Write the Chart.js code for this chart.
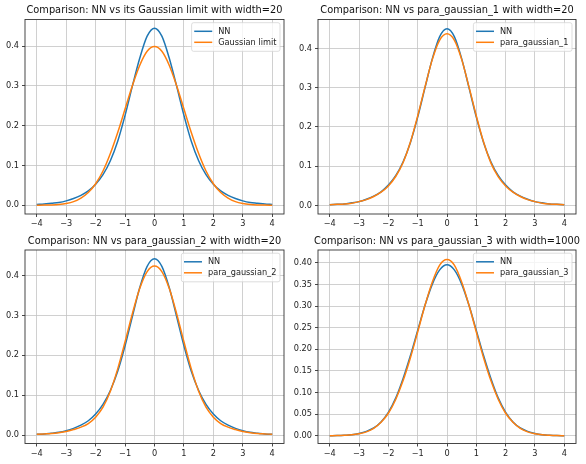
<!DOCTYPE html>
<html><head><meta charset="utf-8">
<script src="https://cdn.jsdelivr.net/npm/chart.js@4/dist/chart.umd.min.js"></script>
<style>
html,body{margin:0;padding:0;background:#fff;overflow:hidden;width:586px;height:464px;}
canvas{position:absolute;}
</style></head><body>
<canvas id="c1" width="309" height="232" style="left:0px;top:0px"></canvas>
<canvas id="c2" width="318" height="232" style="left:288px;top:0px"></canvas>
<canvas id="c3" width="309" height="230" style="left:0px;top:232px"></canvas>
<canvas id="c4" width="318" height="230" style="left:288px;top:232px"></canvas>
<script>
// x positions (shared by all panels)
const xs = [-4,-3.75,-3.5,-3.25,-3,-2.75,-2.5,-2.25,-2,-1.75,-1.5,-1.25,-1,-0.75,-0.5,-0.25,0,
            0.25,0.5,0.75,1,1.25,1.5,1.75,2,2.25,2.5,2.75,3,3.25,3.5,3.75,4];
const xTicks = [-4,-3,-2,-1,0,1,2,3,4];

const titles = [
  "Comparison: NN vs its Gaussian limit with width=20",
  "Comparison: NN vs para_gaussian_1 with width=20",
  "Comparison: NN vs para_gaussian_2 with width=20",
  "Comparison: NN vs para_gaussian_3 with width=1000"
];
const secondLabels = ["Gaussian limit","para_gaussian_1","para_gaussian_2","para_gaussian_3"];

// Panel 1
const nn1 = [0.002,0.003,0.005,0.007,0.011,0.017,0.025,0.036,0.053,0.077,0.112,0.161,0.226,0.300,0.370,0.425,0.445,
             0.425,0.370,0.300,0.226,0.161,0.112,0.077,0.053,0.036,0.025,0.017,0.011,0.007,0.005,0.003,0.002];
const gaussLimit = [0.0001,0.0004,0.0009,0.002,0.0044,0.009,0.018,0.032,0.054,0.086,0.130,0.183,0.242,0.301,0.352,0.387,0.399,
                    0.387,0.352,0.301,0.242,0.183,0.130,0.086,0.054,0.032,0.018,0.009,0.0044,0.002,0.0009,0.0004,0.0001];
// Panel 2
const nn2 = [0.002,0.003,0.004,0.007,0.010,0.016,0.024,0.035,0.052,0.076,0.111,0.160,0.225,0.300,0.374,0.430,0.450,
             0.430,0.374,0.300,0.225,0.160,0.111,0.076,0.052,0.035,0.024,0.016,0.010,0.007,0.004,0.003,0.002];
const paraGauss1 = [0.002,0.003,0.004,0.006,0.010,0.015,0.023,0.034,0.050,0.074,0.109,0.161,0.228,0.302,0.372,0.421,0.437,
                    0.421,0.372,0.302,0.228,0.161,0.108,0.073,0.050,0.034,0.023,0.015,0.010,0.006,0.004,0.003,0.002];
// Panel 3
const nn3 = [0.002,0.003,0.005,0.007,0.011,0.017,0.025,0.036,0.053,0.077,0.112,0.160,0.224,0.298,0.370,0.423,0.442,
             0.423,0.370,0.298,0.224,0.160,0.112,0.077,0.053,0.036,0.025,0.017,0.011,0.007,0.005,0.003,0.002];
const paraGauss2 = [0.002,0.003,0.004,0.006,0.009,0.014,0.020,0.029,0.045,0.070,0.110,0.166,0.234,0.305,0.368,0.410,0.424,
                    0.410,0.368,0.305,0.234,0.166,0.110,0.070,0.045,0.029,0.020,0.014,0.009,0.006,0.004,0.003,0.002];
// Panel 4
const nn4 = [0.0001,0.0004,0.001,0.002,0.005,0.010,0.018,0.032,0.054,0.087,0.132,0.185,0.244,0.302,0.351,0.384,0.396,
             0.384,0.351,0.302,0.244,0.185,0.132,0.087,0.054,0.032,0.018,0.010,0.005,0.002,0.001,0.0004,0.0001];
const paraGauss3 = [0.0001,0.0004,0.001,0.002,0.0045,0.009,0.017,0.031,0.052,0.084,0.127,0.180,0.240,0.302,0.356,0.395,0.408,
                    0.395,0.356,0.302,0.240,0.180,0.127,0.084,0.052,0.031,0.017,0.009,0.0045,0.002,0.001,0.0004,0.0001];

const panels = [
  {id:'c1', nn:nn1, other:gaussLimit, ymin:-0.022, ymax:0.467, step:0.1, dec:1, yW:25, titleTop:5, xH:18},
  {id:'c2', nn:nn2, other:paraGauss1, ymin:-0.0215, ymax:0.4735, step:0.1, dec:1, yW:30, titleTop:5, xH:18},
  {id:'c3', nn:nn3, other:paraGauss2, ymin:-0.021, ymax:0.464, step:0.1, dec:1, yW:25, titleTop:3.5, xH:18.5},
  {id:'c4', nn:nn4, other:paraGauss3, ymin:-0.018, ymax:0.430, step:0.05, dec:2, yW:30, titleTop:3.5, xH:18.5}
];

const FONT = "'DejaVu Sans', sans-serif";

const framePlugin = {
  id: 'frame',
  afterDatasetsDraw(chart) {
    const a = chart.chartArea, ctx = chart.ctx;
    ctx.save();
    ctx.strokeStyle = '#333';
    ctx.lineWidth = 0.9;
    ctx.strokeRect(a.left, a.top, a.right - a.left, a.bottom - a.top);
    ctx.restore();
  }
};

const legendPlugin = {
  id: 'mplLegend',
  afterDraw(chart) {
    const a = chart.chartArea, ctx = chart.ctx;
    const ds = chart.data.datasets;
    ctx.save();
    ctx.font = '8.2px ' + FONT;
    const tw = Math.max(...ds.map(d => ctx.measureText(d.label).width));
    const w = 26.6 + tw + 3.6;
    const rowGap = 11;
    const h = 8.6 + 9 + rowGap * (ds.length - 1);
    const x0 = a.right - 4 - w, y0 = a.top + 3.2;
    const r = 2;
    ctx.beginPath();
    ctx.moveTo(x0 + r, y0);
    ctx.lineTo(x0 + w - r, y0); ctx.quadraticCurveTo(x0 + w, y0, x0 + w, y0 + r);
    ctx.lineTo(x0 + w, y0 + h - r); ctx.quadraticCurveTo(x0 + w, y0 + h, x0 + w - r, y0 + h);
    ctx.lineTo(x0 + r, y0 + h); ctx.quadraticCurveTo(x0, y0 + h, x0, y0 + h - r);
    ctx.lineTo(x0, y0 + r); ctx.quadraticCurveTo(x0, y0, x0 + r, y0);
    ctx.closePath();
    ctx.fillStyle = 'rgba(255,255,255,0.8)';
    ctx.fill();
    ctx.strokeStyle = '#d4d4d4';
    ctx.lineWidth = 0.8;
    ctx.stroke();
    ds.forEach((d, i) => {
      const cy = y0 + 8.6 + i * rowGap;
      ctx.beginPath();
      ctx.strokeStyle = d.borderColor;
      ctx.lineWidth = 1.5;
      ctx.moveTo(x0 + 2.6, cy); ctx.lineTo(x0 + 20.6, cy);
      ctx.stroke();
      ctx.fillStyle = '#222';
      ctx.textBaseline = 'middle';
      ctx.textAlign = 'left';
      ctx.fillText(d.label, x0 + 26.6, cy + 0.3);
    });
    ctx.restore();
  }
};

const minusFmt = v => (v < 0 ? '\u2212' + Math.abs(v) : String(v));

panels.forEach((p, k) => {
  new Chart(document.getElementById(p.id), {
    type: 'line',
    data: {
      datasets: [
        {label: 'NN', data: xs.map((x, i) => ({x, y: p.nn[i]})), borderColor: '#1f77b4', order: 1,
         borderWidth: 1.5, pointRadius: 0, cubicInterpolationMode: 'monotone', fill: false},
        {label: secondLabels[k], data: xs.map((x, i) => ({x, y: p.other[i]})), borderColor: '#ff7f0e', order: 0,
         borderWidth: 1.5, pointRadius: 0, cubicInterpolationMode: 'monotone', fill: false}
      ]
    },
    options: {
      responsive: false,
      animation: false,
      events: [],
      layout: {padding: 0},
      plugins: {
        legend: {display: false},
        tooltip: {enabled: false},
        title: {
          display: true, text: titles[k], color: '#111', fullSize: true,
          font: {family: FONT, size: 9.8, weight: 'normal', lineHeight: 1.2},
          padding: {top: p.titleTop, bottom: (k < 2 ? 19.5 : 18) - p.titleTop - 11.76}
        }
      },
      scales: {
        x: {
          type: 'linear', position: 'bottom', min: -4.4, max: 4.4,
          afterBuildTicks: s => { s.ticks = xTicks.map(v => ({value: v})); },
          afterFit: s => { s.height = p.xH; },
          ticks: {includeBounds: false, autoSkip: false, maxRotation: 0, color: '#222', padding: 2,
                  font: {family: FONT, size: 8.2}, callback: minusFmt},
          grid: {color: '#c4c4c4', lineWidth: 0.8, drawTicks: true, tickLength: 3, tickColor: '#333', tickWidth: 0.9},
          border: {display: false}
        },
        y: {
          type: 'linear', position: 'left', min: p.ymin, max: p.ymax,
          afterBuildTicks: s => {
            const t = [];
            for (let v = 0; v <= p.ymax + 1e-9; v += p.step) t.push({value: Math.round(v * 1000) / 1000});
            s.ticks = t;
          },
          afterFit: s => { s.width = p.yW; },
          ticks: {includeBounds: false, autoSkip: false, color: '#222', padding: 3,
                  font: {family: FONT, size: 8.2}, callback: v => v.toFixed(p.dec)},
          grid: {color: '#c4c4c4', lineWidth: 0.8, drawTicks: true, tickLength: 3, tickColor: '#333', tickWidth: 0.9},
          border: {display: false}
        },
        yr: {
          type: 'linear', position: 'right', display: true, min: 0, max: 1,
          afterFit: s => { s.width = p.yW; },
          ticks: {display: false},
          grid: {display: false, drawTicks: false},
          border: {display: false}
        }
      }
    },
    plugins: [framePlugin, legendPlugin]
  });
});
</script>
</body></html>
